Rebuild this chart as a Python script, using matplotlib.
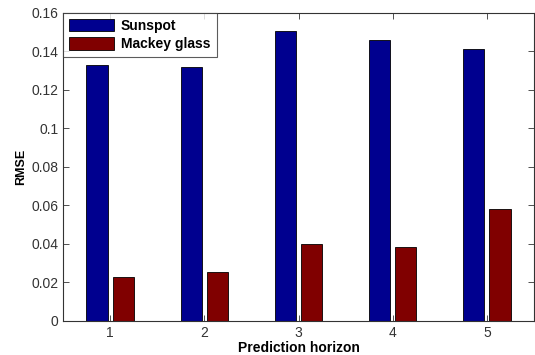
import numpy as np
import matplotlib
matplotlib.use("Agg")
import matplotlib.pyplot as plt

horizons = [1, 2, 3, 4, 5]
sunspot = [0.1328, 0.1316, 0.1503, 0.1460, 0.1413]
mackey = [0.0230, 0.0254, 0.0400, 0.0386, 0.0582]

plt.rcParams["font.family"] = ["Liberation Sans", "DejaVu Sans"]

fig = plt.figure(figsize=(5.35, 3.55), dpi=100)
ax = fig.add_axes([0.118, 0.096, 0.880, 0.868])

x = np.array(horizons)
w = 0.225
ax.bar(x - 0.14, sunspot, w, color=(0, 0, 0.5625), edgecolor="black", linewidth=0.6, label="Sunspot")
ax.bar(x + 0.14, mackey, w, color=(0.5, 0, 0), edgecolor="black", linewidth=0.6, label="Mackey glass")

ax.set_xlim(0.5, 5.5)
ax.set_ylim(0, 0.16)
ax.set_xticks(horizons)
ax.set_yticks(np.arange(0, 0.161, 0.02))
ax.set_yticklabels(["0", "0.02", "0.04", "0.06", "0.08", "0.1", "0.12", "0.14", "0.16"])
ax.tick_params(direction="in", top=True, right=True, labelsize=10, length=4, width=0.6, colors="#333333",
               labelcolor="#333333")
for s in ax.spines.values():
    s.set_linewidth(0.8)
    s.set_color("#333333")

ax.set_xlabel("Prediction horizon", fontweight="bold", fontsize=10, labelpad=1)
ax.set_ylabel("RMSE", fontweight="bold", fontsize=9, labelpad=3)

leg = ax.legend(loc="upper left", borderaxespad=0, fancybox=False, edgecolor="#333333",
                prop={"weight": "bold", "size": 10}, handlelength=3.2, handleheight=1.0,
                labelspacing=0.3, borderpad=0.45, handletextpad=0.5)
leg.get_frame().set_linewidth(0.8)

fig.savefig("out.png", dpi=100)
